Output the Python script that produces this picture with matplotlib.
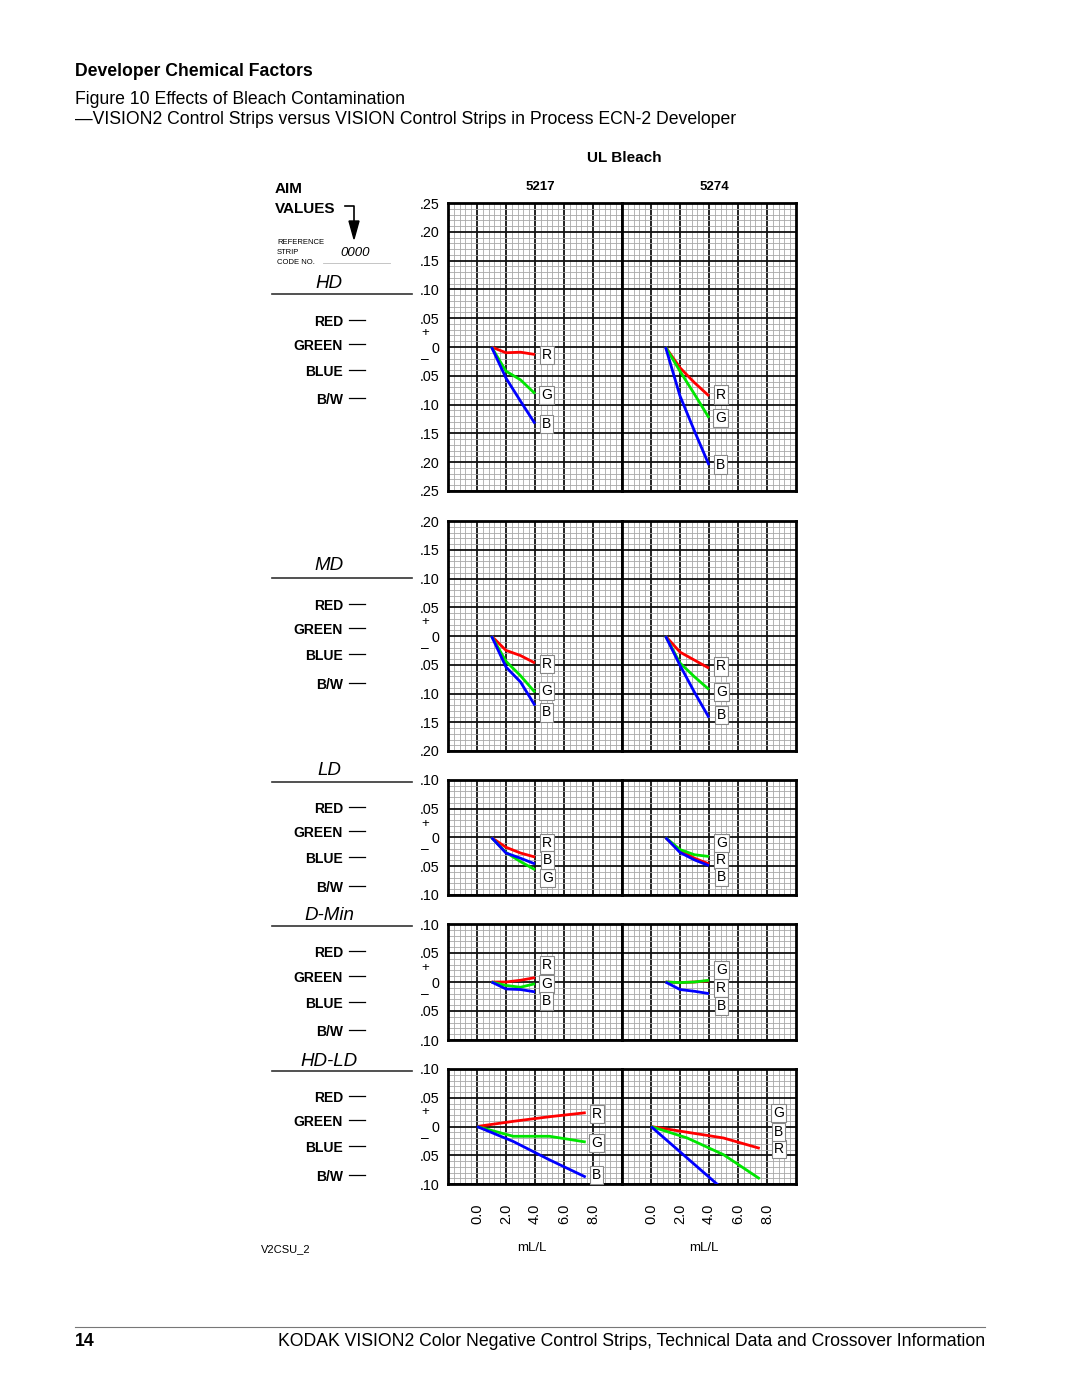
import matplotlib
matplotlib.use("Agg")
import matplotlib.pyplot as plt
import numpy as np
from matplotlib.lines import Line2D
from matplotlib.patches import Polygon

plt.rcParams['font.family'] = ['Liberation Sans', 'DejaVu Sans']

W, H = 1080, 1397

# data (axis units: x in mL/L grid units, y in density change)
films = ['5217', '5274']
x_upper = [1, 2, 3, 4]
x_hdld = [0, 2.5, 5, 7.5]

hd_red = ([0, -0.010, -0.009, -0.013], [0, -0.036, -0.062, -0.085])
hd_green = ([0, -0.042, -0.057, -0.081], [0, -0.042, -0.082, -0.123])
hd_blue = ([0, -0.054, -0.094, -0.133], [0, -0.085, -0.146, -0.205])

md_red = ([0, -0.025, -0.034, -0.047], [0, -0.028, -0.042, -0.056])
md_green = ([0, -0.044, -0.069, -0.098], [0, -0.047, -0.071, -0.093])
md_blue = ([0, -0.054, -0.080, -0.121], [0, -0.051, -0.098, -0.142])

ld_red = ([0, -0.017, -0.027, -0.034], [0, -0.023, -0.036, -0.046])
ld_green = ([0, -0.026, -0.042, -0.056], [0, -0.021, -0.030, -0.033])
ld_blue = ([0, -0.027, -0.036, -0.046], [0, -0.026, -0.039, -0.049])

dmin_red = ([0, 0.000, 0.003, 0.0075], [0, -0.001, 0.000, 0.002])
dmin_green = ([0, -0.006, -0.009, -0.003], [0, -0.001, 0.000, 0.003])
dmin_blue = ([0, -0.012, -0.013, -0.017], [0, -0.013, -0.016, -0.020])

hdld_red = ([0, 0.009, 0.017, 0.024], [0, -0.010, -0.020, -0.038])
hdld_green = ([0, -0.017, -0.017, -0.027], [0, -0.020, -0.049, -0.091])
hdld_blue = ([0, -0.026, -0.058, -0.088], [0, -0.055, -0.110, -0.165])

xtick_vals = [0, 2, 4, 6, 8]
xtick_labels = ['0.0', '2.0', '4.0', '6.0', '8.0']
channels = ['RED', 'GREEN', 'BLUE', 'B/W']

# rows: name, ylim, top px, bottom px, x values, series, label layout
rows = [
    ('HD', 0.25, 203, 491, x_upper, (hd_red, hd_green, hd_blue),
     [(4.8, [-0.0144, -0.084, -0.133]), (4.8, [-0.0825, -0.123, -0.204])]),
    ('MD', 0.20, 521, 751, x_upper, (md_red, md_green, md_blue),
     [(4.8, [-0.049, -0.096, -0.133]), (4.85, [-0.053, -0.098, -0.137])]),
    ('LD', 0.10, 780, 895, x_upper, (ld_red, ld_green, ld_blue),
     [(4.85, [-0.009, -0.070, -0.039]), (4.85, [-0.039, -0.010, -0.068])]),
    ('D-Min', 0.10, 924, 1040, x_upper, (dmin_red, dmin_green, dmin_blue),
     [(4.8, [0.029, -0.003, -0.033]), (4.85, [-0.010, 0.021, -0.041])]),
    ('HD-LD', 0.10, 1069, 1184, x_hdld, (hdld_red, hdld_green, hdld_blue),
     [(8.25, [0.022, -0.029, -0.084]), (8.8, [-0.039, 0.023, -0.009])]),
]
# left column label positions (px): title y, rule y, channel y's
left_labels = [
    (282, 294, [320, 344, 370, 398]),
    (564, 578, [604, 628, 654, 683]),
    (769, 782, [807, 831, 857, 886]),
    (914, 926, [951, 976, 1002, 1030]),
    (1059, 1071, [1096, 1120, 1146, 1175]),
]

colors = ['#ff0000', '#00e600', '#0000ff']
letters = ['R', 'G', 'B']

fig = plt.figure(figsize=(W / 100, H / 100), dpi=100)


def fx(x):
    return x / W


def fy(y):
    return 1 - y / H


def ftext(x, y, s, **kw):
    # small downward nudge: va='center' counts descender space
    fig.text(fx(x), fy(y + 2), s, **kw)


def fline(xs, ys, **kw):
    fig.add_artist(Line2D([fx(v) for v in xs], [fy(v) for v in ys], **kw))


for r, (name, lim, top, bot, xs, series, lab) in enumerate(rows):
    for c in range(2):
        left = 448 + c * 174
        ax = fig.add_axes([fx(left), fy(bot), 174 / W, (bot - top) / H])
        ax.set_xlim(-2, 10)
        ax.set_ylim(-lim, lim)
        yt = np.round(np.arange(-lim, lim + 0.001, 0.05), 3)
        ax.set_xticks(xtick_vals)
        ax.set_xticks(np.arange(-2, 10, 0.4), minor=True)
        ax.set_yticks(yt)
        ax.set_yticks(np.arange(-lim, lim + 0.001, 0.01), minor=True)
        if c == 0:
            ax.set_yticklabels(['0' if v == 0 else ('%.2f' % abs(v))[1:] for v in yt],
                               fontsize=10.3)
        else:
            ax.set_yticklabels([])
        if r == len(rows) - 1:
            ax.set_xticklabels(xtick_labels, rotation=90, fontsize=10.5)
        else:
            ax.set_xticklabels([])
        ax.tick_params(which='both', length=0, pad=6)
        ax.tick_params(axis='x', pad=14)
        ax.grid(which='minor', color='#a8a8a8', lw=0.6)
        ax.grid(which='major', color='#111111', lw=1.3)
        ax.set_axisbelow(True)
        for sp in ax.spines.values():
            sp.set_linewidth(2.0)
        for k in range(3):
            ax.plot(xs, series[k][c], color=colors[k], lw=2.0, solid_capstyle='butt',
                    clip_on=True, zorder=3)
        lx, lys = lab[c]
        for k in range(3):
            ax.text(lx, lys[k], letters[k], fontsize=10, ha='center', va='center',
                    zorder=4,
                    bbox=dict(boxstyle='square,pad=0.15', fc='white', ec='#888888',
                              lw=0.8))
        if c == 0:
            zero_px = (top + bot) / 2
            ftext(425, zero_px - 16, '+', fontsize=9.5, ha='center', va='center')
            ftext(425, zero_px + 10, '\u2013', fontsize=10, ha='center', va='center')

    ty, ly, cys = left_labels[r]
    ftext(329, ty, name, fontsize=13.5, style='italic', ha='center', va='center')
    fline([272, 412], [ly, ly], color='#333333', lw=1.2)
    for ch, cy in zip(channels, cys):
        ftext(343, cy, ch, fontsize=10, weight='bold', ha='right', va='center')
        fline([349, 365], [cy, cy], color='k', lw=0.9)

# header block
ftext(75, 69, 'Developer Chemical Factors', fontsize=12.7, weight='bold', va='center')
ftext(75, 97, 'Figure 10 Effects of Bleach Contamination', fontsize=12.7, va='center')
ftext(75, 117, '\u2014VISION2 Control Strips versus VISION Control Strips in Process ECN-2 Developer',
      fontsize=12.7, va='center')
ftext(624, 156, 'UL Bleach', fontsize=11, weight='bold', ha='center', va='center')
for c, f in enumerate(films):
    ftext(540 + c * 174, 185, f, fontsize=9.5, weight='bold', ha='center', va='center')

# aim values block
ftext(275, 187, 'AIM', fontsize=11, weight='bold', va='center')
ftext(275, 207, 'VALUES', fontsize=11, weight='bold', va='center')
fline([345, 354, 354], [206, 206, 222], color='k', lw=1.2)
fig.add_artist(Polygon([[fx(349), fy(221)], [fx(359), fy(221)], [fx(354), fy(239)]],
                       closed=True, fc='k', ec='k', transform=fig.transFigure))
ftext(277, 240, 'REFERENCE', fontsize=5.5, va='center')
ftext(277, 250, 'STRIP', fontsize=5.5, va='center')
ftext(277, 260, 'CODE NO.', fontsize=5.5, va='center')
ftext(355, 251, '0000', fontsize=9.5, style='italic', ha='center', va='center')
fline([323, 390], [263, 263], color='#bbbbbb', lw=0.6)

# x axis captions
ftext(532, 1246, 'mL/L', fontsize=9.5, ha='center', va='center')
ftext(704, 1246, 'mL/L', fontsize=9.5, ha='center', va='center')
ftext(261, 1247, 'V2CSU_2', fontsize=8, va='center')

# footer
fline([75, 985], [1327, 1327], color='#777777', lw=0.8)
ftext(75, 1340, '14', fontsize=12.7, weight='bold', va='center')
ftext(985, 1340, 'KODAK VISION2 Color Negative Control Strips, Technical Data and Crossover Information',
      fontsize=12.7, ha='right', va='center')

fig.savefig('out.png', dpi=100)
